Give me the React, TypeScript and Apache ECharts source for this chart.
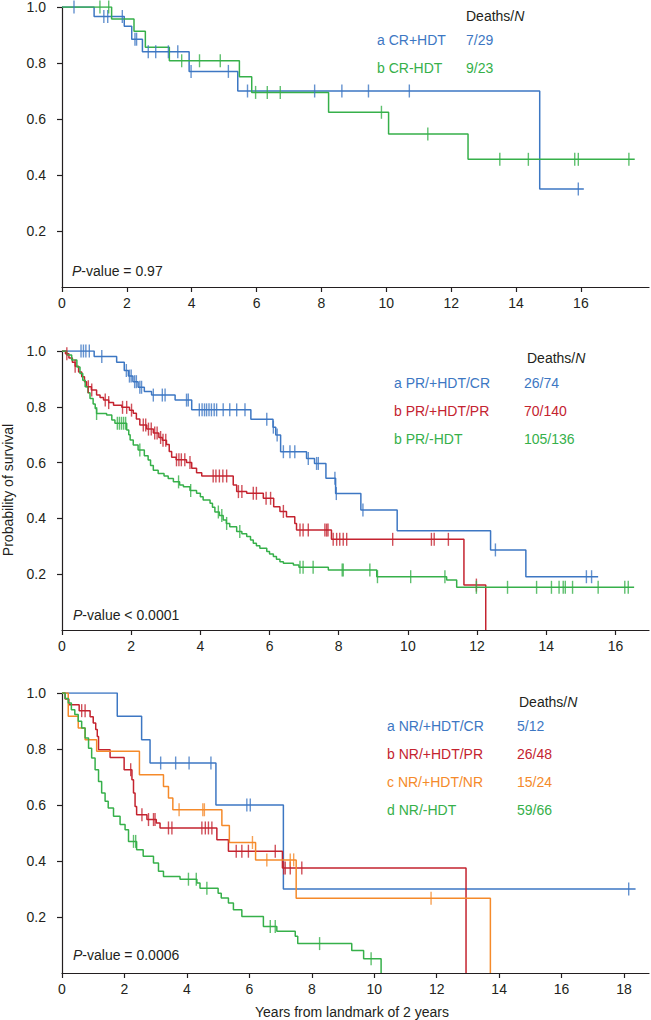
import React, { useEffect, useRef } from "react";
import * as echarts from "echarts";

// ---------- colours ----------
const BLUE = "#3d77c3";
const RED = "#c4232f";
const ORANGE = "#f58a2a";
const GREEN = "#36b04a";
const INK = "#231f20";

// ---------- tick labels ----------
const yTicks = [0.2, 0.4, 0.6, 0.8, 1.0];
const xTicks1 = [0, 2, 4, 6, 8, 10, 12, 14, 16];
const xTicks2 = [0, 2, 4, 6, 8, 10, 12, 14, 16];
const xTicks3 = [0, 2, 4, 6, 8, 10, 12, 14, 16, 18];
const xMax = [18.1, 16.97, 18.8];

// ---------- Panel 1: CR ----------
const p1Names = ["a CR+HDT", "b CR-HDT"];
const p1Deaths = ["7/29", "9/23"];
const p1PValue = "= 0.97";

const p1aTimes = [0, 0.99, 1.92, 2.15, 2.48, 3.92, 5.42, 14.73, 16.09];
const p1aSurv = [1, 0.966, 0.931, 0.885, 0.84, 0.77, 0.7, 0.35, 0.35];
const p1aCens = [0.37, 1.29, 1.41, 1.86, 2.25, 2.3, 2.66, 2.89, 3.28, 3.57, 3.98, 5.13, 5.72, 7.79, 8.63, 9.45, 10.71, 15.92];

const p1bTimes = [0, 1.53, 2.22, 2.57, 3.31, 5.47, 5.85, 8.22, 10.07, 12.52, 17.66];
const p1bSurv = [1, 0.957, 0.913, 0.856, 0.808, 0.751, 0.695, 0.624, 0.546, 0.456, 0.456];
const p1bCens = [1.17, 1.44, 3.69, 4.24, 4.88, 5.97, 6.33, 6.73, 9.85, 11.28, 13.5, 14.38, 15.81, 15.92, 17.48];

// ---------- Panel 2: PR ----------
const p2Names = ["a PR/+HDT/CR", "b PR/+HDT/PR", "b PR/-HDT"];
const p2Deaths = ["26/74", "70/140", "105/136"];
const p2PValue = "< 0.0001";

const p2aTimes = [0, 0.93, 1.58, 1.8, 1.92, 2.05, 2.2, 2.38, 2.59, 3.27, 3.75, 5.46, 6.1, 6.18, 6.32, 7.07, 7.3, 7.63, 7.91, 8.64, 9.69, 12.39, 13.41, 15.5];
const p2aSurv = [1, 0.98, 0.96, 0.93, 0.91, 0.89, 0.87, 0.855, 0.842, 0.824, 0.789, 0.755, 0.727, 0.699, 0.639, 0.615, 0.597, 0.544, 0.489, 0.43, 0.356, 0.287, 0.191, 0.191];
const p2aCens = [0.55, 0.62, 0.69, 0.79, 1.15, 1.86, 1.95, 2.0, 2.1, 2.15, 2.25, 2.3, 2.64, 2.9, 2.98, 3.6, 3.65, 3.97, 4.05, 4.12, 4.18, 4.25, 4.32, 4.4, 4.47, 4.66, 4.85, 5.05, 5.29, 5.92, 6.11, 6.22, 6.4, 6.59, 6.73, 7.12, 7.36, 7.41, 7.89, 7.93, 8.7, 12.53, 15.16, 15.31];

const p2bTimes = [0, 0.1, 0.2, 0.3, 0.38, 0.48, 0.57, 0.65, 0.71, 0.85, 1.0, 1.1, 1.2, 1.35, 1.49, 1.73, 1.95, 2.06, 2.15, 2.25, 2.45, 2.64, 2.8, 2.9, 3.02, 3.1, 3.17, 3.3, 3.6, 3.75, 3.89, 4.04, 4.95, 5.05, 5.34, 5.82, 6.12, 6.3, 6.49, 6.73, 6.78, 7.79, 11.62, 12.25];
const p2bSurv = [1, 0.99, 0.975, 0.96, 0.945, 0.925, 0.908, 0.89, 0.872, 0.86, 0.842, 0.833, 0.824, 0.815, 0.806, 0.798, 0.788, 0.777, 0.756, 0.735, 0.72, 0.706, 0.69, 0.68, 0.665, 0.64, 0.619, 0.61, 0.6, 0.58, 0.564, 0.552, 0.52, 0.496, 0.49, 0.472, 0.442, 0.425, 0.406, 0.382, 0.358, 0.325, 0.161, 0];
const p2bCens = [0.14, 0.38, 0.76, 0.86, 1.25, 1.35, 1.75, 1.87, 2.01, 2.35, 2.42, 2.5, 2.58, 2.68, 2.75, 2.85, 2.92, 3.0, 3.31, 3.38, 3.45, 3.55, 3.7, 4.37, 4.45, 4.55, 4.65, 4.76, 5.1, 5.2, 5.53, 5.62, 5.9, 6.03, 6.4, 6.88, 6.97, 7.12, 7.6, 7.65, 7.69, 7.84, 7.94, 8.03, 8.13, 8.23, 9.56, 10.68, 10.76, 11.17, 11.98];

const p2cTimes = [0, 0.14, 0.28, 0.43, 0.52, 0.6, 0.67, 0.75, 0.81, 0.9, 0.96, 1.0, 1.29, 1.44, 1.53, 1.87, 1.93, 1.97, 2.06, 2.2, 2.38, 2.49, 2.56, 2.64, 2.78, 2.95, 3.07, 3.22, 3.4, 3.51, 3.7, 3.89, 4.0, 4.08, 4.28, 4.35, 4.42, 4.55, 4.66, 4.75, 4.85, 5.05, 5.2, 5.34, 5.45, 5.53, 5.62, 5.72, 5.92, 6.0, 6.11, 6.2, 6.3, 6.4, 6.69, 6.85, 7.7, 9.1, 11.12, 11.41, 16.54];
const p2cSurv = [1, 0.986, 0.968, 0.943, 0.919, 0.895, 0.872, 0.85, 0.83, 0.81, 0.794, 0.776, 0.771, 0.753, 0.741, 0.717, 0.7, 0.681, 0.663, 0.645, 0.625, 0.609, 0.59, 0.573, 0.561, 0.552, 0.543, 0.531, 0.52, 0.513, 0.5, 0.49, 0.478, 0.466, 0.454, 0.44, 0.423, 0.41, 0.394, 0.382, 0.37, 0.353, 0.345, 0.335, 0.323, 0.311, 0.302, 0.293, 0.281, 0.272, 0.263, 0.254, 0.245, 0.239, 0.233, 0.225, 0.215, 0.191, 0.179, 0.153, 0.153];
const p2cCens = [1.0, 1.6, 1.66, 1.72, 1.78, 1.84, 2.25, 3.37, 3.72, 4.52, 4.62, 4.76, 5.14, 6.88, 6.97, 7.26, 8.1, 8.13, 8.9, 9.12, 10.08, 11.07, 11.98, 12.88, 13.72, 14.15, 14.37, 14.49, 14.55, 14.76, 15.5, 16.27, 16.37];

// ---------- Panel 3: NR ----------
const p3Names = ["a NR/+HDT/CR", "b NR/+HDT/PR", "c NR/+HDT/NR", "d NR/-HDT"];
const p3Deaths = ["5/12", "26/48", "15/24", "59/66"];
const p3PValue = "= 0.0006";

const p3aTimes = [0, 1.77, 2.55, 2.82, 4.93, 7.09, 18.37];
const p3aSurv = [1, 0.917, 0.833, 0.75, 0.6, 0.3, 0.3];
const p3aCens = [3.16, 3.64, 4.07, 4.77, 5.92, 6.03, 18.15];

const p3bTimes = [0, 0.1, 0.22, 0.55, 0.9, 1.0, 1.08, 1.13, 1.17, 1.54, 1.99, 2.24, 2.29, 2.34, 2.39, 2.72, 3.02, 3.14, 4.96, 5.33, 7.06, 12.94];
const p3bSurv = [1, 0.979, 0.958, 0.937, 0.915, 0.893, 0.87, 0.845, 0.797, 0.77, 0.726, 0.69, 0.643, 0.595, 0.565, 0.548, 0.536, 0.518, 0.476, 0.435, 0.375, 0];
const p3bCens = [0.63, 0.74, 2.2, 2.56, 2.77, 2.93, 2.98, 3.41, 3.52, 4.48, 4.59, 4.69, 4.8, 5.58, 5.76, 5.97, 6.83, 7.1, 7.15, 7.31, 7.68];

const p3cTimes = [0, 0.2, 0.52, 0.74, 1.11, 2.48, 3.25, 3.41, 3.55, 5.12, 5.36, 6.2, 7.5, 13.72];
const p3cSurv = [1, 0.917, 0.875, 0.833, 0.792, 0.708, 0.666, 0.625, 0.583, 0.527, 0.466, 0.404, 0.267, 0];
const p3cCens = [3.75, 4.51, 4.56, 6.1, 6.56, 7.31, 7.42, 11.82];

const p3dTimes = [0, 0.1, 0.2, 0.3, 0.41, 0.52, 0.63, 0.74, 0.85, 0.95, 1.06, 1.17, 1.27, 1.38, 1.48, 1.65, 1.86, 2.02, 2.13, 2.39, 2.6, 2.93, 3.09, 3.25, 3.78, 4.32, 4.42, 5.0, 5.1, 5.33, 5.49, 5.76, 6.45, 6.88, 7.47, 7.55, 9.28, 9.66, 10.22];
const p3dSurv = [1, 0.98, 0.964, 0.94, 0.923, 0.899, 0.875, 0.839, 0.803, 0.768, 0.726, 0.684, 0.643, 0.613, 0.589, 0.56, 0.53, 0.512, 0.47, 0.44, 0.417, 0.393, 0.363, 0.345, 0.335, 0.321, 0.303, 0.285, 0.268, 0.25, 0.226, 0.202, 0.166, 0.149, 0.131, 0.105, 0.08, 0.051, 0];
const p3dCens = [2.29, 2.36, 4.05, 4.3, 4.64, 6.67, 6.83, 8.25, 9.9];

const FONT = "'Liberation Sans', Arial, Helvetica, sans-serif";

type Curve = { times: number[]; surv: number[]; cens: number[]; color: string };

const panels: { curves: Curve[]; names: string[]; deaths: string[]; pval: string; xTicks: number[] }[] = [
  {
    curves: [
      { times: p1aTimes, surv: p1aSurv, cens: p1aCens, color: BLUE },
      { times: p1bTimes, surv: p1bSurv, cens: p1bCens, color: GREEN },
    ],
    names: p1Names, deaths: p1Deaths, pval: p1PValue, xTicks: xTicks1,
  },
  {
    curves: [
      { times: p2aTimes, surv: p2aSurv, cens: p2aCens, color: BLUE },
      { times: p2bTimes, surv: p2bSurv, cens: p2bCens, color: RED },
      { times: p2cTimes, surv: p2cSurv, cens: p2cCens, color: GREEN },
    ],
    names: p2Names, deaths: p2Deaths, pval: p2PValue, xTicks: xTicks2,
  },
  {
    curves: [
      { times: p3aTimes, surv: p3aSurv, cens: p3aCens, color: BLUE },
      { times: p3bTimes, surv: p3bSurv, cens: p3bCens, color: RED },
      { times: p3cTimes, surv: p3cSurv, cens: p3cCens, color: ORANGE },
      { times: p3dTimes, surv: p3dSurv, cens: p3dCens, color: GREEN },
    ],
    names: p3Names, deaths: p3Deaths, pval: p3PValue, xTicks: xTicks3,
  },
];

// layout
const grids = [
  { left: 62, top: 7, width: 587, height: 280 },
  { left: 62, top: 351, width: 587, height: 279 },
  { left: 62, top: 693, width: 587, height: 280 },
];
const legendLayout = [
  { headX: 466, headY: 17, nameX: 377, valX: 466, rowY: 40, step: 27.5 },
  { headX: 527, headY: 359, nameX: 394, valX: 524, rowY: 383, step: 27.8 },
  { headX: 519, headY: 703, nameX: 387, valX: 517, rowY: 726, step: 28 },
];
const pLayout = [
  { x: 72, y: 272 },
  { x: 73, y: 616 },
  { x: 73, y: 956 },
];

function survAt(c: Curve, t: number): number {
  let s = c.surv[0];
  for (let i = 0; i < c.times.length; i++) {
    if (c.times[i] <= t) s = c.surv[i];
  }
  return s;
}

export default function App() {
  const ref = useRef<HTMLDivElement>(null);
  useEffect(() => {
    document.body.style.margin = "0";
    if (!ref.current) return;
    const chart = echarts.init(ref.current, null, { renderer: "svg" });

    const xAxis: any[] = [];
    const yAxis: any[] = [];
    const series: any[] = [];
    const graphic: any[] = [];

    panels.forEach((p, gi) => {
      xAxis.push({
        type: "value",
        gridIndex: gi,
        min: 0,
        max: xMax[gi],
        interval: 2,
        axisLine: { show: true, lineStyle: { color: INK, width: 1.2 } },
        axisTick: { show: true, length: 5, lineStyle: { color: INK, width: 1.2 }, customValues: p.xTicks },
        axisLabel: {
          color: INK, fontSize: 14, fontFamily: FONT, margin: 9,
          customValues: p.xTicks,
          formatter: (v: number) => String(v),
        },
        splitLine: { show: false },
      });
      yAxis.push({
        type: "value",
        gridIndex: gi,
        min: 0,
        max: 1,
        interval: 0.2,
        axisLine: { show: true, lineStyle: { color: INK, width: 1.2 } },
        axisTick: { show: true, length: 5, lineStyle: { color: INK, width: 1.2 }, customValues: yTicks },
        axisLabel: {
          color: INK, fontSize: 14, fontFamily: FONT, margin: 16,
          customValues: yTicks,
          formatter: (v: number) => v.toFixed(1),
        },
        splitLine: { show: false },
      });

      p.curves.forEach((c) => {
        series.push({
          type: "line",
          xAxisIndex: gi,
          yAxisIndex: gi,
          step: "end",
          symbol: "none",
          showSymbol: false,
          lineStyle: { color: c.color, width: 1.5 },
          itemStyle: { color: c.color },
          data: c.times.map((t, i) => [t, c.surv[i]]),
          silent: true,
          z: 2,
        });
        series.push({
          type: "scatter",
          xAxisIndex: gi,
          yAxisIndex: gi,
          symbol: "rect",
          symbolSize: [1.4, 13],
          itemStyle: { color: c.color },
          data: c.cens.map((t) => [t, survAt(c, t)]),
          silent: true,
          z: 3,
        });
      });

      const L = legendLayout[gi];
      graphic.push({
        type: "text",
        left: L.headX,
        top: L.headY - 8,
        style: {
          text: "Deaths/{i|N}",
          fill: INK,
          font: `14px ${FONT}`,
          rich: { i: { fontStyle: "italic", fontSize: 14, fontFamily: FONT, fill: INK } },
        },
      });
      p.names.forEach((n, i) => {
        const color = p.curves[i].color;
        graphic.push({
          type: "text",
          x: L.nameX,
          y: L.rowY + i * L.step,
          style: { text: n, fill: color, font: `14px ${FONT}`, textVerticalAlign: "middle", verticalAlign: "middle" },
        });
        graphic.push({
          type: "text",
          x: L.valX,
          y: L.rowY + i * L.step,
          style: { text: p.deaths[i], fill: color, font: `14px ${FONT}`, textVerticalAlign: "middle", verticalAlign: "middle" },
        });
      });

      const P = pLayout[gi];
      graphic.push({
        type: "text",
        left: P.x,
        top: P.y - 8,
        style: {
          text: "{i|P}-value " + p.pval,
          fill: INK,
          font: `14px ${FONT}`,
          rich: { i: { fontStyle: "italic", fontSize: 14, fontFamily: FONT, fill: INK } },
        },
      });
    });

    graphic.push({
      type: "text",
      x: 8,
      y: 490,
      rotation: Math.PI / 2,
      style: {
        text: "Probability of survival",
        fill: INK,
        font: `14px ${FONT}`,
        align: "center",
        verticalAlign: "middle",
      },
    });
    graphic.push({
      type: "text",
      x: 352,
      y: 1012,
      style: {
        text: "Years from landmark of 2 years",
        fill: INK,
        font: `14px ${FONT}`,
        align: "center",
        verticalAlign: "middle",
      },
    });

    chart.setOption({
      animation: false,
      backgroundColor: "#ffffff",
      grid: grids.map((g) => ({ ...g, containLabel: false })),
      xAxis,
      yAxis,
      series,
      graphic,
    });
    return () => chart.dispose();
  }, []);
  return <div ref={ref} style={{ width: 651, height: 1020 }} />;
}
